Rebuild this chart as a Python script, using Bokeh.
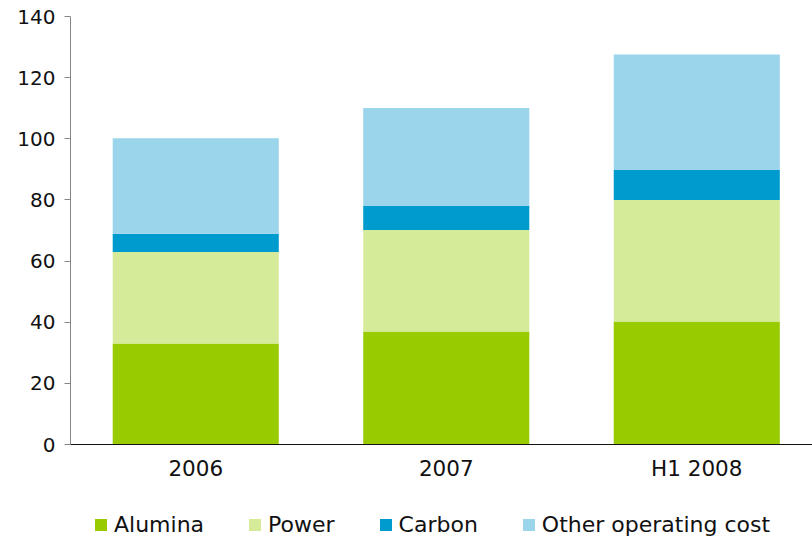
from bokeh.plotting import figure
from bokeh.layouts import column
from bokeh.models import ColumnDataSource, Legend, LegendItem, Range1d, FixedTicker
from bokeh.embed import file_html
from bokeh.resources import INLINE

categories = ["2006", "2007", "H1 2008"]
alumina = [33.0, 37.0, 40.2]
power = [30.0, 33.2, 39.8]
carbon = [5.9, 7.85, 9.8]
other = [31.3, 32.0, 37.8]
series_names = ["Alumina", "Power", "Carbon", "Other operating cost"]
colors = ["#99CC00", "#D6EB9A", "#009BCE", "#9BD5EB"]
y_ticks = [0, 20, 40, 60, 80, 100, 120, 140]

x = list(range(len(categories)))
data = dict(x=x, alumina=alumina, power=power, carbon=carbon, other=other)
source = ColumnDataSource(data)
stack_cols = ["alumina", "power", "carbon", "other"]

FONT = "DejaVu Sans"
TXT = "#111111"

p = figure(width=812, height=490, output_backend="svg", toolbar_location=None,
           x_range=Range1d(-0.5, 2.462), y_range=Range1d(0, 140),
           min_border_left=70, min_border_right=0, min_border_top=16,
           min_border_bottom=46)
p.outline_line_color = None
p.grid.visible = False

p.vbar_stack(stack_cols, x="x", width=0.663, source=source,
             color=colors, line_color=None)

# y axis
ya = p.yaxis[0]
ya.ticker = FixedTicker(ticks=y_ticks)
ya.axis_line_color = "#868686"
ya.major_tick_line_color = "#868686"
ya.major_tick_out = 6
ya.major_tick_in = 0
ya.minor_tick_line_color = None
ya.major_label_text_font = FONT
ya.major_label_text_font_size = "20px"
ya.major_label_text_color = TXT
ya.major_label_standoff = 9

# x axis
xa = p.xaxis[0]
xa.ticker = FixedTicker(ticks=x)
xa.major_label_overrides = {i: c for i, c in enumerate(categories)}
xa.axis_line_color = "#111111"
xa.major_tick_line_color = None
xa.minor_tick_line_color = None
xa.major_label_text_font = FONT
xa.major_label_text_font_size = "21.5px"
xa.major_label_text_color = TXT
xa.major_label_standoff = 5

# legend in a strip below the chart (legend-only renderers, zero height, out of view)
dummy = ColumnDataSource(dict(x=[0.5], alumina=[0], power=[0], carbon=[0], other=[0]))
lg = figure(width=812, height=47, output_backend="svg", toolbar_location=None,
            x_range=Range1d(0, 1), y_range=Range1d(10, 11),
            min_border_left=0, min_border_right=0, min_border_top=0,
            min_border_bottom=0)
lg.axis.visible = False
lg.grid.visible = False
lg.outline_line_color = None
lr = lg.vbar_stack(stack_cols, x="x", width=0.1, source=dummy,
                   color=colors, line_color=None)
items = [LegendItem(label=n, renderers=[r]) for n, r in zip(series_names, lr)]
legend = Legend(items=items, orientation="horizontal", location=(23, 0),
                glyph_width=15, glyph_height=15, label_standoff=6, spacing=43,
                padding=0, margin=0, border_line_color=None,
                background_fill_alpha=0,
                label_text_font=FONT, label_text_font_size="22px",
                label_text_color=TXT, label_height=20)
lg.add_layout(legend, "center")

layout = column(p, lg, spacing=0)
open("out.html", "w").write(file_html(layout, INLINE))
